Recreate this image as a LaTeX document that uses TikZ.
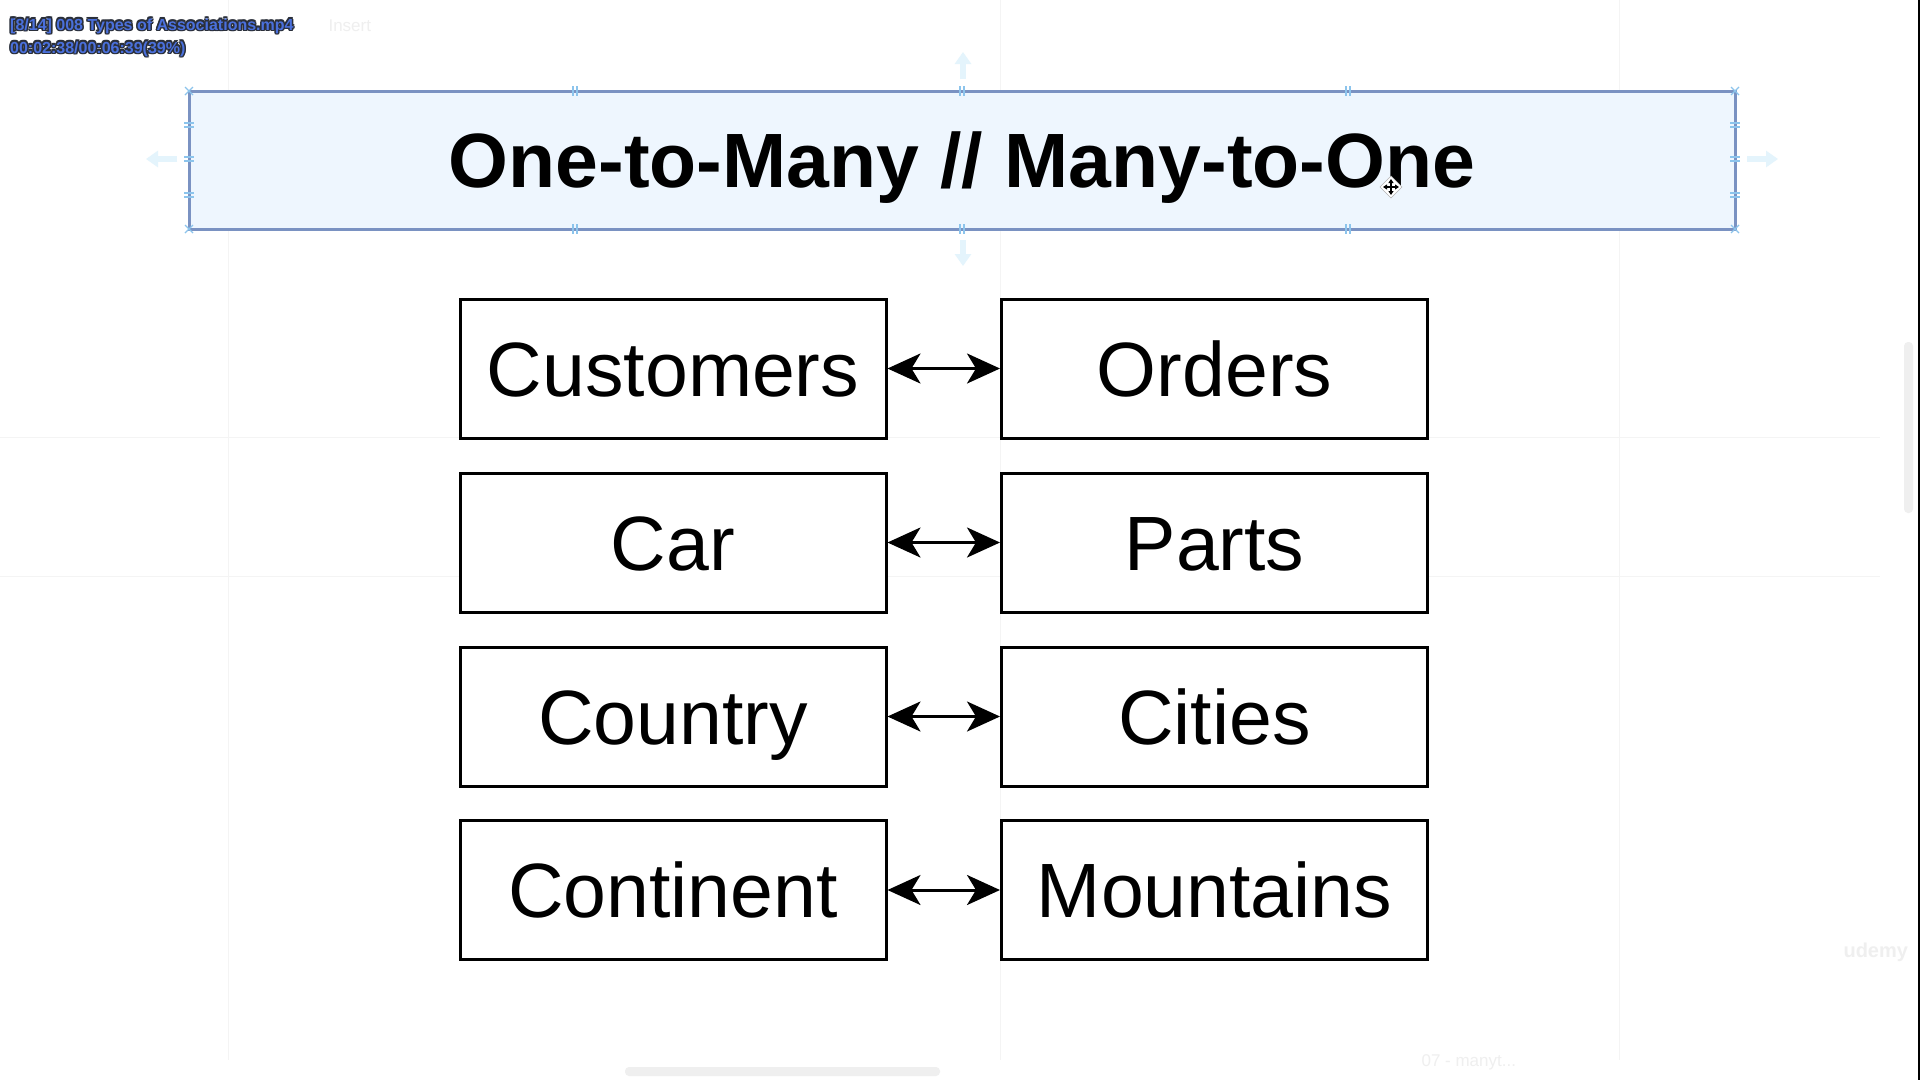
\documentclass[tikz,border=0pt]{standalone}
\usepackage{fontspec}
\setmainfont{Liberation Sans}
\usetikzlibrary{arrows.meta}
\definecolor{titlefill}{HTML}{EEF6FE}
\definecolor{titleline}{HTML}{7A92C2}
\definecolor{handle}{HTML}{8CC4EC}
\definecolor{ghostarrow}{HTML}{E4F4FC}
\definecolor{gridline}{HTML}{F4F4F4}
\definecolor{osdblue}{HTML}{4A70DC}
\definecolor{osdedge}{HTML}{2A2F3A}
\definecolor{faintgray}{HTML}{EFEFEF}
\tikzset{
  entity/.style={draw=black, fill=white, line width=3pt, minimum width=426pt,
    minimum height=139pt, inner sep=0pt, text height=55pt, text depth=0pt,
    font=\fontsize{77}{80}\selectfont},
  link/.style={line width=3pt, {Stealth[length=33pt,width=30pt,inset=9pt]}-{Stealth[length=33pt,width=30pt,inset=9pt]}},
  titlebox/.style={draw=titleline, fill=titlefill, line width=3pt, minimum width=1546pt,
    minimum height=138pt, inner sep=0pt, text height=55pt, text depth=0pt,
    font=\fontsize{77}{80}\selectfont\bfseries},
  ghost/.style={ghostarrow, line width=6pt, -{Triangle[length=12pt,width=16pt]}},
  tick/.style={handle, line width=1.2pt},
  grid line/.style={gridline, line width=1pt},
  osd/.style={anchor=base west, inner sep=0pt, font=\fontsize{16}{18}\selectfont\bfseries}
}
\newcommand{\osdtext}[3]{%
  \foreach \dx/\dy in {-1.5/0,1.5/0,0/-1.5,0/1.5,-1.1/-1.1,1.1/-1.1,-1.1/1.1,1.1/1.1}
    \node[osd, text=osdedge] at (#1+\dx,#2+\dy) {#3};
  \node[osd, text=osdblue] at (#1,#2) {#3};}
\begin{document}
\begin{tikzpicture}[x=1pt,y=-1pt]
\useasboundingbox (0,0) rectangle (1920,1080);
\fill[white] (0,0) rectangle (1920,1080);

% faint layout guides of the canvas
\draw[grid line] (228,0) -- (228,1060);
\draw[grid line] (1000,0) -- (1000,1060);
\draw[grid line] (1619,0) -- (1619,1060);
\draw[grid line] (0,437) -- (1880,437);
\draw[grid line] (0,576) -- (1880,576);

% scroll bars and window edge
\fill[faintgray, rounded corners=4pt] (1904,342) rectangle (1913,513);
\fill[faintgray, rounded corners=4pt] (625,1067) rectangle (940,1076);
\fill[black] (1918,0) rectangle (1920,1080);

% faint watermark texts
\node[anchor=base west, text=faintgray, font=\fontsize{17}{20}\selectfont] (ins) at (325,31) {Insert};
\node[anchor=base west, text=faintgray, font=\fontsize{20}{22}\selectfont\bfseries] (logo) at (1840,957) {udemy};
\node[anchor=base west, text=faintgray, font=\fontsize{17}{20}\selectfont] (tab) at (1418,1066) {07 - manyt...};

% title
\node[titlebox] (title) at (962,160) {One-to-Many // Many-to-One};

% selection handles around the title
\foreach \x in {575,962,1348}{
  \draw[tick] (\x-2,86) -- (\x-2,96); \draw[tick] (\x+2,86) -- (\x+2,96);
  \draw[tick] (\x-2,224) -- (\x-2,234); \draw[tick] (\x+2,224) -- (\x+2,234);}
\foreach \y in {125,159,195}{
  \draw[tick] (184,\y-2) -- (194,\y-2); \draw[tick] (184,\y+2) -- (194,\y+2);
  \draw[tick] (1730,\y-2) -- (1740,\y-2); \draw[tick] (1730,\y+2) -- (1740,\y+2);}
\foreach \x/\y in {189/91,1735/91,189/229,1735/229}{
  \draw[tick] (\x-4,\y-4) -- (\x+4,\y+4); \draw[tick] (\x-4,\y+4) -- (\x+4,\y-4);}

% resize hints around the title
\coordinate (upA) at (963,79);   \coordinate (upB) at (963,52);
\coordinate (dnA) at (963,240);  \coordinate (dnB) at (963,266);
\coordinate (lfA) at (177,159);  \coordinate (lfB) at (146,159);
\coordinate (rtA) at (1747,159); \coordinate (rtB) at (1778,159);
\draw[ghost] (upA) -- (upB);
\draw[ghost] (dnA) -- (dnB);
\draw[ghost] (lfA) -- (lfB);
\draw[ghost] (rtA) -- (rtB);

% move cursor
\begin{scope}[shift={(1391,187)}]
  \fill[white, draw=gray!60, line width=0.6pt] (0,-11) -- (11,0) -- (0,11) -- (-11,0) -- cycle;
  \draw[black, line width=1.6pt, {Triangle[length=4pt,width=5pt]}-{Triangle[length=4pt,width=5pt]}] (-8,0) -- (8,0);
  \draw[black, line width=1.6pt, {Triangle[length=4pt,width=5pt]}-{Triangle[length=4pt,width=5pt]}] (0,-8) -- (0,8);
\end{scope}

% entity pairs
\node[entity] (cust) at (673,368.5) {Customers};
\node[entity] (ord)  at (1214.5,368.5) {Orders};
\node[entity] (car)  at (673,542.5) {Car};
\node[entity] (part) at (1214.5,542.5) {Parts};
\node[entity] (ctry) at (673,716.5) {Country};
\node[entity] (city) at (1214.5,716.5) {Cities};
\node[entity] (cont) at (673,890) {Continent};
\node[entity] (mtn)  at (1214.5,890) {Mountains};

\draw[link] (cust.east) -- (ord.west);
\draw[link] (car.east) -- (part.west);
\draw[link] (ctry.east) -- (city.west);
\draw[link] (cont.east) -- (mtn.west);

% player overlay
\osdtext{10}{30}{[8/14] 008 Types of Associations.mp4}
\osdtext{10}{53}{00:02:38/00:06:39(39\%)}
\end{tikzpicture}
\end{document}
